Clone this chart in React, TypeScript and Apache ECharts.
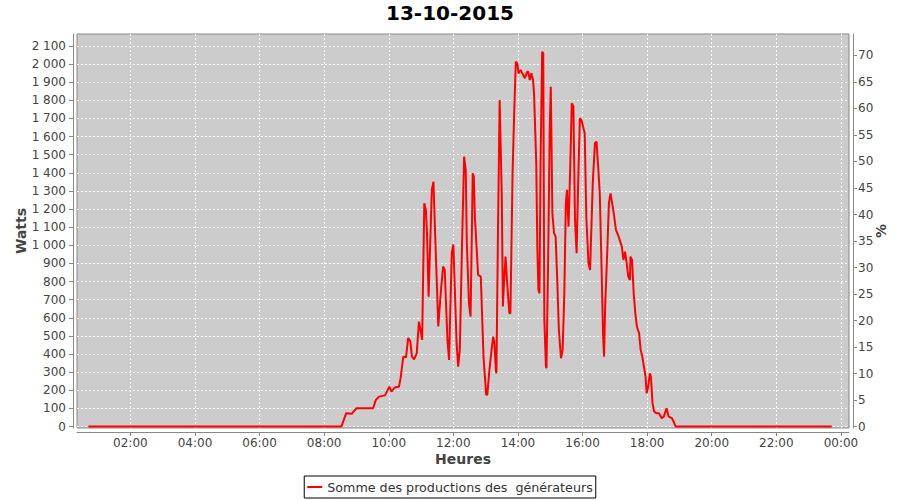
import React, { useEffect, useRef } from "react";
import * as echarts from "echarts";

const TITLE = "13-10-2015";
const SERIES_NAME = "Somme des productions des  générateurs";
const X_NAME = "Heures";
const Y_NAME = "Watts";
const Y2_NAME = "%";

const times = [
  "00:42", "08:32", "08:41", "08:51", "09:00", "09:31", "09:36", "09:42", "09:53",
  "10:01", "10:05", "10:11", "10:19", "10:22", "10:27", "10:32", "10:36", "10:40",
  "10:43", "10:47", "10:52", "10:56", "10:59", "11:02", "11:06", "11:09", "11:11",
  "11:14", "11:20", "11:23", "11:26", "11:32", "11:37", "11:41", "11:44", "11:49",
  "11:52", "11:57", "12:00", "12:06", "12:09", "12:12", "12:16", "12:20", "12:23",
  "12:25", "12:29", "12:32", "12:36", "12:38", "12:40", "12:46", "12:51", "12:56",
  "13:01", "13:03", "13:07", "13:11", "13:14", "13:16", "13:19", "13:20", "13:23",
  "13:26", "13:30", "13:32", "13:34", "13:37", "13:40", "13:44", "13:46", "13:50",
  "13:53", "13:56", "13:59", "14:01", "14:05", "14:08", "14:13", "14:17", "14:19",
  "14:22", "14:25", "14:28", "14:30", "14:34", "14:36", "14:38", "14:40", "14:42",
  "14:45", "14:47", "14:49", "14:52", "14:53", "14:56", "14:59", "15:01", "15:04",
  "15:07", "15:10", "15:13", "15:16", "15:20", "15:23", "15:26", "15:29", "15:31",
  "15:34", "15:37", "15:40", "15:43", "15:46", "15:49", "15:52", "15:55", "15:58",
  "16:01", "16:04", "16:07", "16:11", "16:14", "16:19", "16:23", "16:26", "16:29",
  "16:32", "16:35", "16:38", "16:40", "16:42", "16:46", "16:49", "16:52", "16:55",
  "16:58", "17:02", "17:06", "17:09", "17:13", "17:16", "17:19", "17:22", "17:25",
  "17:28", "17:29", "17:32", "17:35", "17:38", "17:41", "17:45", "17:48", "17:51",
  "17:54", "17:57", "17:59", "18:02", "18:05", "18:07", "18:10", "18:13", "18:17",
  "18:22", "18:27", "18:31", "18:36", "18:40", "18:46", "18:49", "18:53", "23:43",
];

const watts = [
  0, 0, 74, 70, 101, 101, 147, 165, 172,
  220, 193, 215, 220, 267, 386, 382, 488, 471,
  386, 371, 404, 579, 533, 478, 1232, 1195, 1067,
  717, 1306, 1351, 1079, 552, 754, 883, 864, 478,
  368, 956, 1005, 460, 331, 423, 993, 1489, 1416,
  1011, 680, 607, 1398, 1379, 1158, 837, 827, 386,
  175, 175, 313, 423, 496, 469, 313, 294, 1103,
  1802, 1268, 662, 790, 938, 790, 625, 625, 1398,
  1729, 2013, 2004, 1949, 1967, 1949, 1922, 1958, 1958,
  1912, 1949, 1912, 1830, 1453, 993, 754, 735, 1453,
  2068, 2059, 589, 331, 322, 901, 1637, 1875, 1177,
  1067, 1048, 809, 533, 377, 423, 717, 1232, 1306,
  1103, 1416, 1784, 1766, 1140, 956, 1361, 1701, 1692,
  1655, 1618, 1158, 901, 864, 1343, 1563, 1572, 1434,
  1287, 919, 515, 386, 662, 975, 1232, 1287, 1232,
  1177, 1085, 1057, 1030, 993, 919, 965, 901, 827,
  809, 938, 919, 736, 625, 552, 515, 423, 386,
  331, 276, 184, 221, 294, 276, 129, 83, 74,
  74, 46, 55, 101, 55, 46, 28, 0, 0,
];

const hourTicks = [2, 4, 6, 8, 10, 12, 14, 16, 18, 20, 22, 24];
const hourTickLabels = ["02:00", "04:00", "06:00", "08:00", "10:00", "12:00", "14:00", "16:00", "18:00", "20:00", "22:00", "00:00"];
const wattTicks = [0, 100, 200, 300, 400, 500, 600, 700, 800, 900, 1000, 1100, 1200, 1300, 1400, 1500, 1600, 1700, 1800, 1900, 2000, 2100];
const pctTicks = [0, 5, 10, 15, 20, 25, 30, 35, 40, 45, 50, 55, 60, 65, 70];

const X_MIN = 0.347;
const X_MAX = 24.25;
const W_MIN = -8;
const W_MAX = 2166;
const W_PER_PCT = 29.25;

const toHours = (t: string) => {
  const [h, m] = t.split(":").map(Number);
  return h + m / 60;
};

const fmtWatts = (v: number) =>
  v >= 1000 ? `${Math.floor(v / 1000)}\u00a0${String(v % 1000).padStart(3, "0")}` : String(v);

const FONT = "DejaVu Sans";
const TEXT = "#444444";
const AXIS = "#888888";

export default function App() {
  const ref = useRef<HTMLDivElement>(null);
  useEffect(() => {
    if (!ref.current) return;
    const chart = echarts.init(ref.current, undefined, { renderer: "svg" });
    const data = times.map((t, i) => [toHours(t), watts[i]]);
    chart.setOption({
      animation: false,
      backgroundColor: "#ffffff",
      textStyle: { fontFamily: FONT },
      title: {
        text: TITLE,
        left: "center",
        top: 3,
        padding: 0,
        textStyle: { fontFamily: FONT, fontWeight: "bold", fontSize: 20, color: "#000000", lineHeight: 20 },
      },
      legend: {
        data: [SERIES_NAME],
        left: "center",
        top: 476,
        padding: [4, 3],
        icon: "rect",
        itemWidth: 15,
        itemHeight: 2,
        itemGap: 5,
        borderColor: "#000000",
        borderWidth: 1,
        textStyle: { fontFamily: FONT, fontSize: 12.7, color: "#333333", lineHeight: 14 },
      },
      grid: {
        left: 77,
        right: 51,
        top: 34,
        bottom: 72,
        show: true,
        backgroundColor: "#cccccc",
        borderColor: "#888888",
        borderWidth: 1,
        containLabel: false,
        outerBoundsMode: "none",
      },
      xAxis: {
        type: "value",
        min: X_MIN,
        max: X_MAX,
        offset: 4,
        name: X_NAME,
        nameLocation: "middle",
        nameGap: 20,
        nameMoveOverlap: false,
        nameTextStyle: { fontFamily: FONT, fontWeight: "bold", fontSize: 14, color: TEXT },
        axisLine: { show: true, onZero: false, lineStyle: { color: AXIS, width: 1 } },
        axisTick: { show: true, length: 4, customValues: hourTicks, lineStyle: { color: AXIS } },
        axisLabel: {
          customValues: hourTicks,
          margin: 5,
          fontFamily: FONT,
          fontSize: 12,
          color: TEXT,
          formatter: (v: number) => hourTickLabels[hourTicks.indexOf(Math.round(v))] ?? "",
        },
        splitLine: { show: true, lineStyle: { color: "#ffffff", type: [2, 2], width: 1 } },
      },
      yAxis: [
        {
          type: "value",
          min: W_MIN,
          max: W_MAX,
          offset: 4,
          position: "left",
          name: Y_NAME,
          nameLocation: "middle",
          nameGap: 45,
          nameMoveOverlap: false,
          nameTextStyle: { fontFamily: FONT, fontWeight: "bold", fontSize: 14, color: TEXT },
          axisLine: { show: true, onZero: false, lineStyle: { color: AXIS, width: 1 } },
          axisTick: { show: true, length: 4, customValues: wattTicks, lineStyle: { color: AXIS } },
          axisLabel: {
            customValues: wattTicks,
            margin: 7,
            fontFamily: FONT,
            fontSize: 12,
            color: TEXT,
            formatter: (v: number) => fmtWatts(Math.round(v)),
          },
          splitLine: { show: true, lineStyle: { color: "#ffffff", type: [2, 2], width: 1 } },
        },
        {
          type: "value",
          min: W_MIN / W_PER_PCT,
          max: W_MAX / W_PER_PCT,
          offset: 4,
          position: "right",
          name: Y2_NAME,
          nameLocation: "middle",
          nameGap: 21,
          nameMoveOverlap: false,
          nameTextStyle: { fontFamily: FONT, fontWeight: "bold", fontSize: 14, color: TEXT },
          axisLine: { show: true, onZero: false, lineStyle: { color: AXIS, width: 1 } },
          axisTick: { show: true, length: 4, customValues: pctTicks, lineStyle: { color: AXIS } },
          axisLabel: {
            customValues: pctTicks,
            margin: 5,
            fontFamily: FONT,
            fontSize: 12,
            color: TEXT,
            formatter: (v: number) => String(Math.round(v)),
          },
          splitLine: { show: false },
        },
      ],
      series: [
        {
          name: SERIES_NAME,
          type: "line",
          yAxisIndex: 0,
          data,
          showSymbol: false,
          symbol: "rect",
          symbolSize: 3,
          lineStyle: { color: "#ff0000", width: 2 },
          itemStyle: { color: "#ff0000" },
        },
      ],
    });
    return () => chart.dispose();
  }, []);
  return <div ref={ref} style={{ width: 900, height: 500, position: "absolute", left: 0, top: 0 }} />;
}
